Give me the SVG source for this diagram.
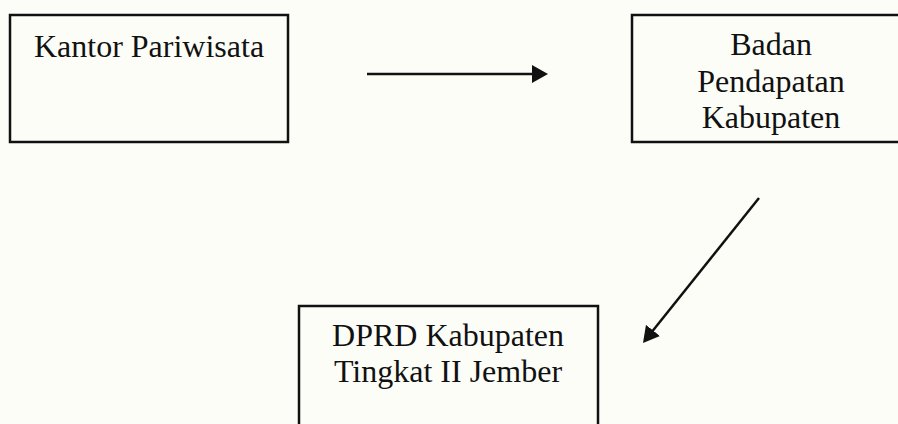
<svg xmlns="http://www.w3.org/2000/svg" width="898" height="424" viewBox="0 0 898 424">
<style>
.box{fill:none;stroke:#111;stroke-width:2.5}
.lbl{font-family:"Liberation Serif","Times New Roman",serif;font-size:32px;fill:#111;text-anchor:middle}
.conn{stroke:#111;stroke-width:2.5;fill:none}
</style>
<defs>
<marker id="ah" viewBox="0 0 16 18" refX="10" refY="9" markerWidth="16" markerHeight="18" markerUnits="userSpaceOnUse" orient="auto">
<path d="M0,0 L16,9 L0,18 z" fill="#111"/>
</marker>
</defs>
<rect width="898" height="424" fill="#fdfdf8"/>
<g id="kantor">
<rect class="box" x="10" y="15" width="278" height="127"/>
<text class="lbl" x="149" y="57">Kantor Pariwisata</text>
</g>
<g id="badan">
<rect class="box" x="632" y="15" width="278" height="127"/>
<text class="lbl" x="771" y="55">Badan</text>
<text class="lbl" x="771" y="92">Pendapatan</text>
<text class="lbl" x="771" y="128">Kabupaten</text>
</g>
<g id="dprd">
<rect class="box" x="299" y="306" width="299" height="130"/>
<text class="lbl" x="448" y="346">DPRD Kabupaten</text>
<text class="lbl" x="448" y="382">Tingkat II Jember</text>
</g>
<g id="connectors">
<line class="conn" x1="367" y1="74" x2="542" y2="74" marker-end="url(#ah)"/>
<line class="conn" x1="759" y1="198" x2="646.75" y2="338.3" marker-end="url(#ah)"/>
</g>
</svg>
